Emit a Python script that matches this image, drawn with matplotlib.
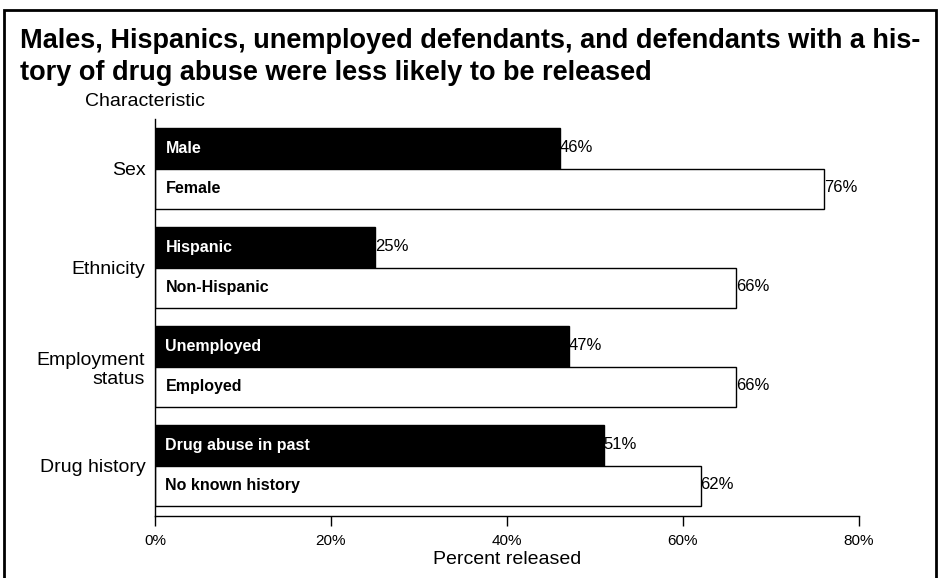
import matplotlib
matplotlib.use("Agg")
import matplotlib.pyplot as plt
from matplotlib.patches import Rectangle

plt.rcParams['font.family'] = ['Liberation Sans', 'DejaVu Sans']

groups = ["Sex", "Ethnicity", "Employment\nstatus", "Drug history"]
black_labels = ["Male", "Hispanic", "Unemployed", "Drug abuse in past"]
black_values = [46, 25, 47, 51]
white_labels = ["Female", "Non-Hispanic", "Employed", "No known history"]
white_values = [76, 66, 66, 62]
xticks = [0, 20, 40, 60, 80]
xtick_labels = ["0%", "20%", "40%", "60%", "80%"]

W, H = 942, 578
fig = plt.figure(figsize=(W / 100, H / 100), dpi=100)

# outer border
fig.patches.append(Rectangle((4 / W, -0.02), (932 / W), (578 - 10) / H + 0.02,
                             transform=fig.transFigure, fill=False,
                             edgecolor='black', linewidth=2))

ax_left, ax_right, ax_top, ax_bottom = 155, 859, 119, 516
ax = fig.add_axes([ax_left / W, (H - ax_bottom) / H,
                   (ax_right - ax_left) / W, (ax_bottom - ax_top) / H])

h = 0.405
for i in range(len(groups)):
    ax.barh(i - h / 2, black_values[i], height=h, color='black',
            edgecolor='black', linewidth=1)
    ax.barh(i + h / 2, white_values[i], height=h, color='white',
            edgecolor='black', linewidth=1)
    ax.annotate(black_labels[i], (0, i - h / 2), xytext=(7.5, 0),
                textcoords='offset points', va='center', ha='left',
                color='white', fontsize=11.5, fontweight='bold')
    ax.annotate(white_labels[i], (0, i + h / 2), xytext=(7.5, 0),
                textcoords='offset points', va='center', ha='left',
                color='black', fontsize=11.5, fontweight='bold')
    ax.annotate(f"{black_values[i]}%", (black_values[i], i - h / 2),
                xytext=(0, 1), textcoords='offset points', va='center',
                ha='left', fontsize=12)
    ax.annotate(f"{white_values[i]}%", (white_values[i], i + h / 2),
                xytext=(0, 1), textcoords='offset points', va='center',
                ha='left', fontsize=12)

ax.set_xlim(0, 80)
ax.set_ylim(3.51, -0.5)
ax.set_xticks(xticks)
ax.set_xticklabels(xtick_labels, fontsize=11)
ax.set_yticks(range(len(groups)))
ax.set_yticklabels(groups, fontsize=14)
ax.tick_params(axis='y', length=0, pad=7)
ax.tick_params(axis='x', direction='out', length=7, width=1, pad=6)
for s in ['top', 'right']:
    ax.spines[s].set_visible(False)
for s in ['left', 'bottom']:
    ax.spines[s].set_linewidth(1)
ax.set_xlabel("Percent released", fontsize=14, labelpad=2)

fig.text(85 / W, 1 - 102 / H, "Characteristic", fontsize=14, va='center', ha='left')
fig.text(20 / W, 1 - 48 / H,
         "Males, Hispanics, unemployed defendants, and defendants with a his-",
         fontsize=19.5, fontweight='bold', va='baseline', ha='left')
fig.text(20 / W, 1 - 80 / H,
         "tory of drug abuse were less likely to be released",
         fontsize=19.5, fontweight='bold', va='baseline', ha='left')
fig.savefig("out.png", dpi=100)
